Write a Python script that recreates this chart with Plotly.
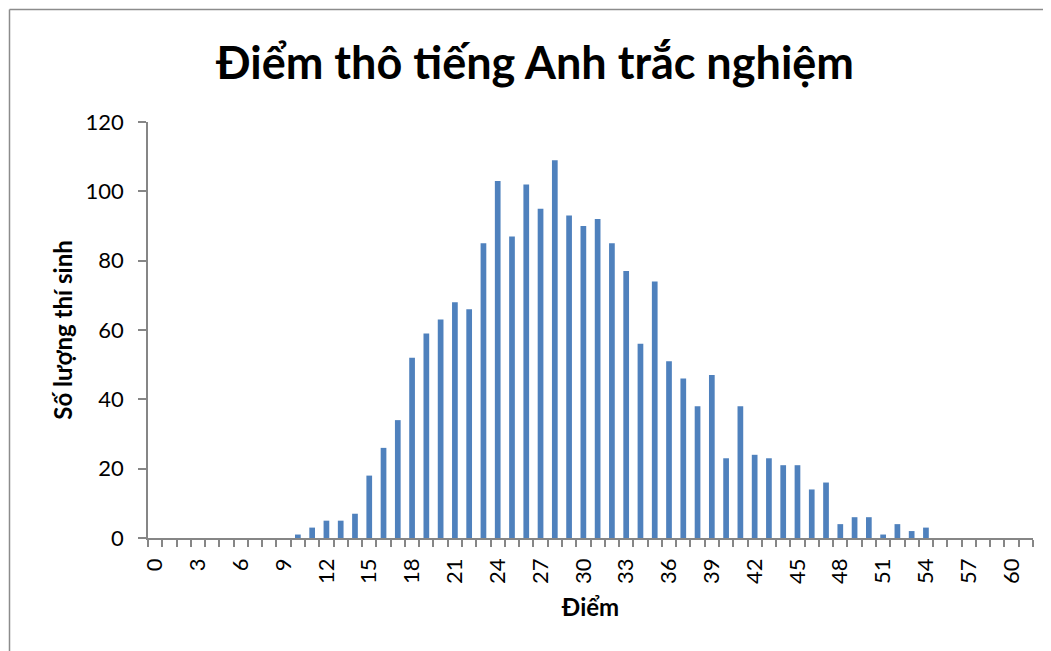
import plotly.graph_objects as go

# Điểm (raw score) categories and number of candidates per score
scores = list(range(0, 62))
counts = [
    0, 0, 0, 0, 0, 0, 0, 0, 0, 0,        # 0-9
    1, 3, 5, 5, 7, 18, 26, 34, 52, 59,   # 10-19
    63, 68, 66, 85, 103, 87, 102, 95, 109, 93,  # 20-29
    90, 92, 85, 77, 56, 74, 51, 46, 38, 47,     # 30-39
    23, 38, 24, 23, 21, 21, 14, 16, 4, 6,       # 40-49
    6, 1, 4, 2, 3, 0, 0, 0, 0, 0,               # 50-59
    0, 0,                                       # 60-61
]
x_tick_vals = list(range(0, 61, 3))
y_tick_vals = [0, 20, 40, 60, 80, 100, 120]

title_text = "Điểm thô tiếng Anh trắc nghiệm"
x_title = "Điểm"
y_title = "Số lượng thí sinh"

FONT = "Lato, 'Open Sans', sans-serif"
AXIS_GREY = "#868686"

fig = go.Figure(
    go.Bar(
        x=scores,
        y=counts,
        marker=dict(color="#4F81BD", line=dict(width=0)),
        hoverinfo="x+y",
    )
)

# the page body adds an 8px offset, so figure coords = screen coords - 8
OFF = 8
W, H = 1051, 651
L, R, T, B = 140, 26, 114, 121
pw, ph = W - L - R, H - T - B


def px_x(p):
    return (p - OFF - L) / pw


def px_y(p):
    return (H - B - (p - OFF)) / ph


fig.update_layout(
    width=W,
    height=H,
    margin=dict(l=L, r=R, t=T, b=B, pad=0),
    paper_bgcolor="white",
    plot_bgcolor="white",
    bargap=0.6,
    showlegend=False,
    font=dict(family=FONT, color="black", size=22),
    title=dict(
        text=f"<b>{title_text}</b>",
        font=dict(family=FONT, size=45, color="black"),
        x=(535 - OFF) / W,
        xanchor="center",
        y=1 - (63 - OFF) / H,
        yanchor="middle",
        xref="container",
        yref="container",
    ),
    xaxis=dict(
        range=[-0.5, 61.5],
        tickmode="array",
        tickvals=x_tick_vals,
        ticktext=[str(v) for v in x_tick_vals],
        tickangle=-90,
        ticks="",
        ticklen=0,
        ticklabelstandoff=10,
        tickfont=dict(size=22),
        showline=True,
        linecolor=AXIS_GREY,
        linewidth=1.5,
        showgrid=False,
        zeroline=False,
        minor=dict(
            tickmode="linear",
            tick0=-0.5,
            dtick=1,
            ticks="outside",
            ticklen=7,
            tickwidth=1.5,
            tickcolor=AXIS_GREY,
            showgrid=False,
        ),
        title=dict(text=f"<b>{x_title}</b>", font=dict(size=24), standoff=16),
        fixedrange=True,
    ),
    yaxis=dict(
        range=[0, 120],
        tickmode="array",
        tickvals=y_tick_vals,
        ticks="outside",
        ticklen=8,
        tickwidth=1.5,
        tickcolor=AXIS_GREY,
        ticklabelstandoff=10,
        tickfont=dict(size=22),
        showline=True,
        linecolor=AXIS_GREY,
        linewidth=1.5,
        showgrid=False,
        zeroline=False,
        title=dict(text=f"<b>{y_title}</b>", font=dict(size=24), standoff=6),
        fixedrange=True,
    ),
    shapes=[
        # chart-area frame (only top and left edges are visible)
        dict(type="line", xref="paper", yref="paper",
             x0=px_x(9.5), x1=px_x(1070), y0=px_y(9.5), y1=px_y(9.5),
             line=dict(color="#8c8c8c", width=1.5)),
        dict(type="line", xref="paper", yref="paper",
             x0=px_x(9.5), x1=px_x(9.5), y0=px_y(9.5), y1=px_y(670),
             line=dict(color="#8c8c8c", width=1.5)),
    ],
)

fig.write_html("out.html")
